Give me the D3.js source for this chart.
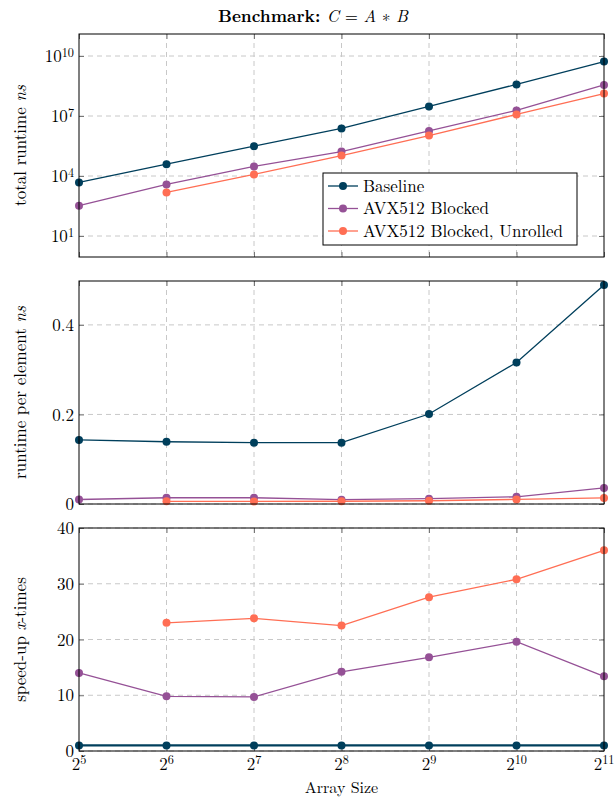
<!DOCTYPE html>
<html><head><meta charset="utf-8">
<script src="https://cdn.jsdelivr.net/npm/d3@7"></script>
<style>
body{margin:0;background:#fff}
text{font-family:"Latin Modern Roman","CMU Serif","Liberation Serif","DejaVu Serif",serif;fill:#000}
</style>
</head><body><svg id="c" width="615" height="798"></svg>
<script>
// ---------- data ----------
const sizes = [32, 64, 128, 256, 512, 1024, 2048];
const seriesNames = ["Baseline", "AVX512 Blocked", "AVX512 Blocked, Unrolled"];
const totalBaseline = [4.8e3, 3.9e4, 3.1e5, 2.4e6, 3.0e7, 3.8e8, 5.25e9];
const totalBlocked  = [330, 3.8e3, 3.0e4, 1.66e5, 1.78e6, 1.9e7, 3.55e8];
const totalUnrolled = [null, 1.5e3, 1.2e4, 1.05e5, 1.05e6, 1.2e7, 1.32e8];
const perElemBaseline = [0.143, 0.139, 0.137, 0.137, 0.201, 0.316, 0.489];
const perElemBlocked  = [0.010, 0.014, 0.014, 0.0097, 0.012, 0.016, 0.036];
const perElemUnrolled = [null, 0.006, 0.0058, 0.0061, 0.0073, 0.0103, 0.0136];
const speedBaseline = [1, 1, 1, 1, 1, 1, 1];
const speedBlocked  = [14.0, 9.8, 9.7, 14.2, 16.8, 19.6, 13.4];
const speedUnrolled = [null, 23.0, 23.8, 22.5, 27.6, 30.8, 36.0];
const totalTicks = [10, 1e4, 1e7, 1e10];
const perElemTicks = [0, 0.2, 0.4];
const speedTicks = [0, 10, 20, 30, 40];
const xLabelExps = [5, 6, 7, 8, 9, 10, 11];

// ---------- layout ----------
const FS = 17;
const colors = ["#003f5c", "#955196", "#ff6e54"];
const left = 79, right = 604;
const svg = d3.select("#c");
const x = d3.scaleLog().base(2).domain([32, 2048]).range([left, right]);

function supLabel(sel, base, exp) {
  sel.text(base);
  sel.append("tspan").attr("dy", "-0.45em").attr("font-size", "0.72em").text(exp);
}

function panel(top, bottom, y, ticks, fmt, series, ylabel, baseWidth) {
  const g = svg.append("g");
  // grid
  g.selectAll(".gx").data(sizes.slice(1, -1)).join("line")
    .attr("x1", d => x(d)).attr("x2", d => x(d)).attr("y1", top).attr("y2", bottom)
    .attr("stroke", "#c8c8c8").attr("stroke-dasharray", "5,4");
  g.selectAll(".gy").data(ticks).join("line")
    .attr("x1", left).attr("x2", right).attr("y1", d => y(d)).attr("y2", d => y(d))
    .attr("stroke", "#c8c8c8").attr("stroke-dasharray", "5,4");
  // inward ticks on all sides
  const axL = g.append("g").attr("transform", `translate(${left},0)`)
    .call(d3.axisLeft(y).tickValues(ticks).tickSize(-5).tickPadding(5).tickFormat(() => ""));
  const axR = g.append("g").attr("transform", `translate(${right},0)`)
    .call(d3.axisRight(y).tickValues(ticks).tickSize(-5).tickFormat(() => ""));
  const axT = g.append("g").attr("transform", `translate(0,${top})`)
    .call(d3.axisTop(x).tickValues(sizes).tickSize(-5).tickFormat(() => ""));
  const axB = g.append("g").attr("transform", `translate(0,${bottom})`)
    .call(d3.axisBottom(x).tickValues(sizes).tickSize(-5).tickFormat(() => ""));
  [axL, axR, axT, axB].forEach(a => {
    a.select(".domain").remove();
    a.selectAll(".tick line").attr("stroke", "#777");
  });
  axL.selectAll(".tick text").each(function(d) { fmt(d3.select(this), d); })
    .attr("font-size", FS).attr("dy", "0.33em")
    .style("font-family", '"Latin Modern Roman","CMU Serif","Liberation Serif","DejaVu Serif",serif');
  // series
  series.forEach((vals, i) => {
    const pts = sizes.map((s, j) => ({s, v: vals[j]})).filter(d => d.v != null);
    g.append("path").datum(pts)
      .attr("fill", "none").attr("stroke", colors[i])
      .attr("stroke-width", i === 0 && baseWidth ? baseWidth : 1.3)
      .attr("d", d3.line().x(d => x(d.s)).y(d => y(d.v)));
    g.selectAll(null).data(pts).join("circle")
      .attr("cx", d => x(d.s)).attr("cy", d => y(d.v)).attr("r", 4)
      .attr("fill", colors[i]);
  });
  // frame
  g.append("rect").attr("x", left).attr("y", top).attr("width", right - left).attr("height", bottom - top)
    .attr("fill", "none").attr("stroke", "#000").attr("stroke-width", 1);
  // y label
  const yl = svg.append("text").attr("font-size", FS).attr("text-anchor", "middle")
    .attr("transform", `translate(26,${(top + bottom) / 2}) rotate(-90)`);
  ylabel(yl);
  return g;
}

// Title
const title = svg.append("text").attr("x", 313).attr("y", 22).attr("text-anchor", "middle").attr("font-size", FS);
title.append("tspan").attr("font-weight", "bold").text("Benchmark: ");
title.append("tspan").attr("font-style", "italic").text("C");
title.append("tspan").text(" = ");
title.append("tspan").attr("font-style", "italic").text("A");
title.append("tspan").text(" ∗ ");
title.append("tspan").attr("font-style", "italic").text("B");

// Panel 1
const y1 = d3.scaleLog().domain([Math.pow(10, -0.05), Math.pow(10, 11.1)]).range([257, 34]);
panel(34, 257, y1, totalTicks,
  (s, d) => supLabel(s, "10", Math.round(Math.log10(d))),
  [totalBaseline, totalBlocked, totalUnrolled],
  t => { t.append("tspan").text("total runtime "); t.append("tspan").attr("font-style", "italic").text("ns"); });

// Legend
const lg = svg.append("g");
lg.append("rect").attr("x", 323).attr("y", 173).attr("width", 254).attr("height", 72)
  .attr("fill", "#fff").attr("stroke", "#000");
seriesNames.forEach((n, i) => {
  const yy = 186 + i * 22.5;
  lg.append("line").attr("x1", 328).attr("x2", 358).attr("y1", yy).attr("y2", yy)
    .attr("stroke", colors[i]).attr("stroke-width", 1.3);
  lg.append("circle").attr("cx", 343).attr("cy", yy).attr("r", 4).attr("fill", colors[i]);
  lg.append("text").attr("x", 363).attr("y", yy).attr("dy", "0.35em").attr("font-size", FS).text(n);
});

// Panel 2
const y2 = d3.scaleLinear().domain([0, 0.498]).range([504, 281]);
panel(281, 504, y2, perElemTicks,
  (s, d) => s.text(d === 0 ? "0" : d3.format(".1f")(d)),
  [perElemBaseline, perElemBlocked, perElemUnrolled],
  t => { t.append("tspan").text("runtime per element "); t.append("tspan").attr("font-style", "italic").text("ns"); });

// Panel 3
const y3 = d3.scaleLinear().domain([0, 40]).range([751, 528]);
panel(528, 751, y3, speedTicks,
  (s, d) => s.text(d),
  [speedBaseline, speedBlocked, speedUnrolled],
  t => { t.append("tspan").text("speed-up "); t.append("tspan").attr("font-style", "italic").text("x"); t.append("tspan").text("-times"); },
  2.2);

// X tick labels
svg.selectAll(".xl").data(sizes).join("text")
  .attr("x", d => x(d)).attr("y", 770).attr("text-anchor", "middle").attr("font-size", FS)
  .each(function(d, i) { supLabel(d3.select(this), "2", xLabelExps[i]); });
svg.append("text").attr("x", 341.5).attr("y", 793).attr("text-anchor", "middle").attr("font-size", 16).text("Array Size");
</script>
</body></html>
